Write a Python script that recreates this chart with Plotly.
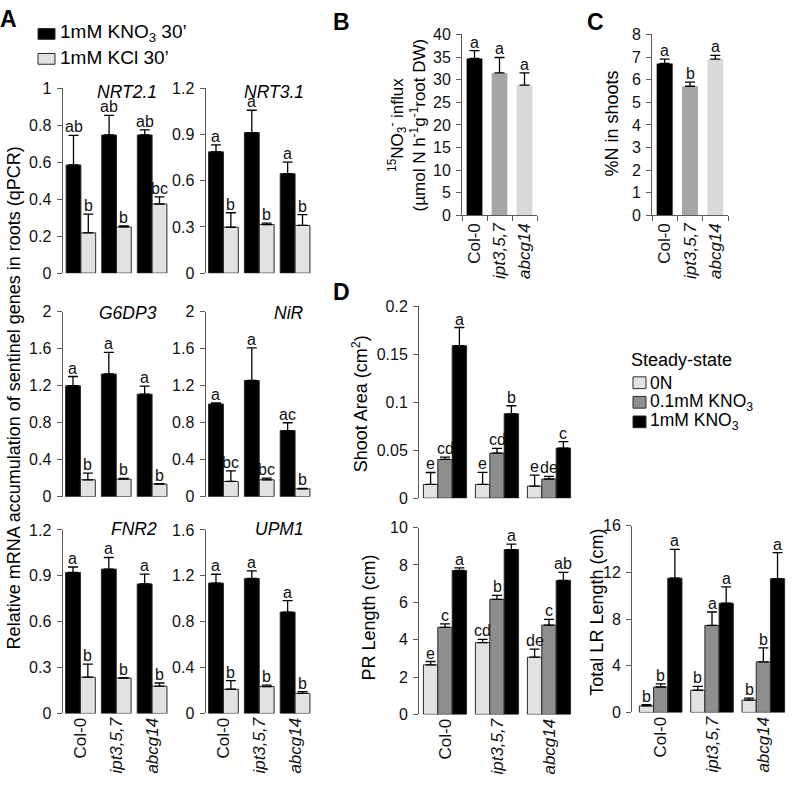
import plotly.graph_objects as go

W, H = 800, 787
FONT = "Liberation Sans, Arial, Helvetica, sans-serif"

# ---------------- data ----------------
genotypes = ["Col-0", "ipt3,5,7", "abcg14"]
genotype_labels = ["Col-0", "<i>ipt3,5,7</i>", "<i>abcg14</i>"]

# Panel A: relative mRNA accumulation (1mM KNO3 30' vs 1mM KCl 30')
nrt21_kno3 = [0.585, 0.747, 0.747]
nrt21_kno3_se = [0.160, 0.106, 0.028]
nrt21_kcl = [0.218, 0.250, 0.374]
nrt21_kcl_se = [0.101, 0.006, 0.038]
nrt21_kno3_let = ["ab", "ab", "ab"]
nrt21_kcl_let = ["b", "b", "bc"]

nrt31_kno3 = [0.787, 0.912, 0.645]
nrt31_kno3_se = [0.046, 0.145, 0.075]
nrt31_kcl = [0.298, 0.315, 0.310]
nrt31_kcl_se = [0.094, 0.010, 0.070]
nrt31_kno3_let = ["a", "a", "a"]
nrt31_kcl_let = ["b", "b", "b"]

g6dp3_kno3 = [1.200, 1.327, 1.109]
g6dp3_kno3_se = [0.100, 0.233, 0.088]
g6dp3_kcl = [0.183, 0.190, 0.137]
g6dp3_kcl_se = [0.071, 0.007, 0.005]
g6dp3_kno3_let = ["a", "a", "a"]
g6dp3_kcl_let = ["b", "b", "b"]

nir_kno3 = [1.003, 1.257, 0.715]
nir_kno3_se = [0.011, 0.353, 0.085]
nir_kcl = [0.165, 0.183, 0.085]
nir_kcl_se = [0.115, 0.017, 0.006]
nir_kno3_let = ["a", "a", "ac"]
nir_kcl_let = ["bc", "bc", "b"]

fnr2_kno3 = [0.922, 0.944, 0.847]
fnr2_kno3_se = [0.036, 0.076, 0.064]
fnr2_kcl = [0.237, 0.231, 0.178]
fnr2_kcl_se = [0.086, 0.003, 0.021]
fnr2_kno3_let = ["a", "a", "a"]
fnr2_kcl_let = ["b", "b", "b"]

upm1_kno3 = [1.137, 1.177, 0.884]
upm1_kno3_se = [0.077, 0.066, 0.100]
upm1_kcl = [0.211, 0.234, 0.175]
upm1_kcl_se = [0.075, 0.012, 0.015]
upm1_kno3_let = ["a", "a", "a"]
upm1_kcl_let = ["b", "b", "b"]

# Panel B: 15NO3- influx
influx = [34.7, 31.5, 28.8]
influx_se = [1.7, 3.4, 2.7]
influx_let = ["a", "a", "a"]

# Panel C: %N in shoots
n_shoots = [6.72, 5.71, 6.91]
n_shoots_se = [0.19, 0.18, 0.16]
n_shoots_let = ["a", "b", "a"]

# Panel D: steady-state (0N, 0.1mM KNO3, 1mM KNO3)
shoot_0n = [0.0143, 0.0143, 0.0126]
shoot_0n_se = [0.0125, 0.0127, 0.0114]
shoot_01 = [0.0404, 0.0470, 0.0200]
shoot_01_se = [0.0024, 0.0050, 0.0027]
shoot_1 = [0.159, 0.088, 0.0523]
shoot_1_se = [0.019, 0.0084, 0.0067]
shoot_0n_let = ["e", "e", "e"]
shoot_01_let = ["cd", "cd", "de"]
shoot_1_let = ["a", "b", "c"]

pr_0n = [2.65, 3.84, 3.06]
pr_0n_se = [0.18, 0.18, 0.43]
pr_01 = [4.66, 6.16, 4.78]
pr_01_se = [0.18, 0.21, 0.30]
pr_1 = [7.70, 8.82, 7.17]
pr_1_se = [0.14, 0.29, 0.43]
pr_0n_let = ["e", "cd", "de"]
pr_01_let = ["c", "b", "c"]
pr_1_let = ["a", "a", "ab"]

lr_0n = [0.56, 1.90, 1.06]
lr_0n_se = [0.10, 0.33, 0.17]
lr_01 = [2.18, 7.45, 4.33]
lr_01_se = [0.27, 1.15, 1.20]
lr_1 = [11.50, 9.35, 11.45]
lr_1_se = [2.46, 1.40, 2.23]
lr_0n_let = ["b", "b", "b"]
lr_01_let = ["b", "a", "b"]
lr_1_let = ["a", "a", "a"]

legendA_names = ["1mM KNO<sub>3</sub> 30’", "1mM KCl 30’"]
legendD_title = "Steady-state"
legendD_names = ["0N", "0.1mM KNO<sub>3</sub>", "1mM KNO<sub>3</sub>"]

# ---------------- styling ----------------
AX = "#5a5a5a"
TXT = "#111111"
OUT = "#2a2a2a"
C_BLACK = "#000000"
C_LIGHT = "#e2e2e2"
C_MID = "#8e8e8e"
BC_COLORS = ["#000000", "#a6a6a6", "#d9d9d9"]
BARGAP = 0.17
YTICKFONT = dict(size=16, color=TXT, family=FONT)
XTICKFONT = dict(size=17, color=TXT, family=FONT)
LETFONT = dict(size=16, color=TXT, family=FONT)


def xdom(l, r):
    return [l / W, r / W]


def ydom(t, b):
    return [1 - b / H, 1 - t / H]


fig = go.Figure()
layout = {}
annotations = []
shapes = []


def add_axes(i, xd, yd, yrange, dtick, xlabels, xline=False, ypos=None):
    sx = "" if i == 1 else str(i)
    xname, yname = "x" + sx, "y" + sx
    layout["xaxis" + sx] = dict(
        domain=xdom(*xd), anchor=yname, type="category",
        categoryorder="array", categoryarray=genotypes,
        tickvals=genotypes, ticktext=genotype_labels,
        showticklabels=xlabels, tickangle=-90, tickfont=XTICKFONT,
        showline=xline, linecolor=AX, linewidth=1,
        ticks="outside" if xline else "", tickson="boundaries",
        ticklen=5, tickcolor=AX, showgrid=False, zeroline=False,
        fixedrange=True)
    ya = dict(
        domain=ydom(*yd), range=yrange, dtick=dtick, tick0=0,
        anchor=xname, showline=True, linecolor=AX, linewidth=1,
        ticks="outside", ticklen=5, tickcolor=AX, tickfont=YTICKFONT,
        ticklabelstandoff=2,
        showgrid=False, zeroline=False, fixedrange=True)
    if ypos is not None:
        ya.update(anchor="free", position=ypos / W)
    layout["yaxis" + sx] = ya
    return xname, yname


def err(se):
    return dict(type="data", symmetric=False, array=se, arrayminus=[0] * len(se),
                color="#000000", thickness=1.3, width=5)


def add_letters(xname, yname, means, ses, labs, ntr, k, gap=BARGAP):
    w = (1 - gap) / ntr
    for j, (m, s, l) in enumerate(zip(means, ses, labs)):
        x = j - (1 - gap) / 2 + (k + 0.5) * w if ntr > 1 else j
        annotations.append(dict(
            x=x, y=m + s, xref=xname, yref=yname, text=l, showarrow=False,
            xanchor="center", yanchor="bottom", yshift=-2, font=LETFONT))


def txt(x, y, text, size=18, angle=0, xanchor="center", yanchor="middle", italic=False):
    annotations.append(dict(
        x=x / W, y=1 - y / H, xref="paper", yref="paper", text=text, showarrow=False,
        textangle=angle, xanchor=xanchor, yanchor=yanchor,
        font=dict(size=size, color="#000000", family=FONT,
                  style="italic" if italic else "normal")))


def key(x0, x1, y0, y1, color):
    shapes.append(dict(type="rect", xref="paper", yref="paper",
                       x0=x0 / W, x1=x1 / W, y0=1 - y1 / H, y1=1 - y0 / H,
                       fillcolor=color, line=dict(color=OUT, width=1)))


# ---------------- panel A ----------------
panelA = [
    ("NRT2.1", nrt21_kno3, nrt21_kno3_se, nrt21_kcl, nrt21_kcl_se, nrt21_kno3_let, nrt21_kcl_let, [0, 1], 0.2),
    ("NRT3.1", nrt31_kno3, nrt31_kno3_se, nrt31_kcl, nrt31_kcl_se, nrt31_kno3_let, nrt31_kcl_let, [0, 1.2], 0.3),
    ("G6DP3", g6dp3_kno3, g6dp3_kno3_se, g6dp3_kcl, g6dp3_kcl_se, g6dp3_kno3_let, g6dp3_kcl_let, [0, 2], 0.4),
    ("NiR", nir_kno3, nir_kno3_se, nir_kcl, nir_kcl_se, nir_kno3_let, nir_kcl_let, [0, 2], 0.4),
    ("FNR2", fnr2_kno3, fnr2_kno3_se, fnr2_kcl, fnr2_kcl_se, fnr2_kno3_let, fnr2_kcl_let, [0, 1.2], 0.3),
    ("UPM1", upm1_kno3, upm1_kno3_se, upm1_kcl, upm1_kcl_se, upm1_kno3_let, upm1_kcl_let, [0, 1.6], 0.4),
]
A_cols = [(62.5, 170), (205.5, 313)]
A_rows = [(82, 271), (310.5, 499.5), (533.5, 721)]
A_title_x = [159, 306]
A_title_y = [86, 312, 533]

for n, (gene, k_m, k_s, c_m, c_s, k_l, c_l, rng, dt) in enumerate(panelA):
    r, c = divmod(n, 2)
    xn, yn = add_axes(n + 1, A_cols[c], A_rows[r], rng, dt, xlabels=(r == 2))
    fig.add_trace(go.Bar(
        x=genotypes, y=k_m, error_y=err(k_s), name=legendA_names[0],
        marker=dict(color=C_BLACK, line=dict(color=OUT, width=1)),
        xaxis=xn, yaxis=yn, showlegend=False))
    fig.add_trace(go.Bar(
        x=genotypes, y=c_m, error_y=err(c_s), name=legendA_names[1],
        marker=dict(color=C_LIGHT, line=dict(color=OUT, width=1)),
        xaxis=xn, yaxis=yn, showlegend=False))
    add_letters(xn, yn, k_m, k_s, k_l, 2, 0)
    add_letters(xn, yn, c_m, c_s, c_l, 2, 1)
    txt(A_title_x[c], A_title_y[r], gene, size=17.5, xanchor="right", italic=True)

# ---------------- panel B ----------------
xn, yn = add_axes(7, (462, 537), (27, 212), [0, 40], 5, xlabels=True, xline=True)
fig.add_trace(go.Bar(x=genotypes, y=influx, width=0.63, error_y=err(influx_se),
                     marker=dict(color=BC_COLORS, line=dict(width=0)),
                     xaxis=xn, yaxis=yn, showlegend=False))
add_letters(xn, yn, influx, influx_se, influx_let, 1, 0)

# ---------------- panel C ----------------
xn, yn = add_axes(8, (652, 728), (27, 212), [0, 8], 1, xlabels=True, xline=True)
fig.add_trace(go.Bar(x=genotypes, y=n_shoots, width=0.63, error_y=err(n_shoots_se),
                     marker=dict(color=BC_COLORS, line=dict(width=0)),
                     xaxis=xn, yaxis=yn, showlegend=False))
add_letters(xn, yn, n_shoots, n_shoots_se, n_shoots_let, 1, 0)

# ---------------- panel D ----------------
D_colors = [C_LIGHT, C_MID, C_BLACK]
D_panels = [
    (9, (419, 575), (305, 501), [0, 0.2], 0.05, False, None,
     [(shoot_0n, shoot_0n_se, shoot_0n_let), (shoot_01, shoot_01_se, shoot_01_let), (shoot_1, shoot_1_se, shoot_1_let)]),
    (10, (419, 575), (531, 722), [0, 10], 2, True, None,
     [(pr_0n, pr_0n_se, pr_0n_let), (pr_01, pr_01_se, pr_01_let), (pr_1, pr_1_se, pr_1_let)]),
    (11, (635, 789), (529, 720), [0, 16], 4, True, 631,
     [(lr_0n, lr_0n_se, lr_0n_let), (lr_01, lr_01_se, lr_01_let), (lr_1, lr_1_se, lr_1_let)]),
]
for idx, xd, yd, rng, dt, xl, ypos, series in D_panels:
    xn, yn = add_axes(idx, xd, yd, rng, dt, xlabels=xl, ypos=ypos)
    for k, (m, s, l) in enumerate(series):
        fig.add_trace(go.Bar(
            x=genotypes, y=m, error_y=err(s), name=legendD_names[k],
            marker=dict(color=D_colors[k], line=dict(color=OUT, width=1)),
            xaxis=xn, yaxis=yn, showlegend=False))
        add_letters(xn, yn, m, s, l, 3, k)

# ---------------- legends (keys + text) ----------------
key(38, 55, 21, 32, C_BLACK)
key(38, 55, 46.5, 57.5, C_LIGHT)
txt(58, 26, legendA_names[0], size=19, xanchor="left")
txt(58, 51, legendA_names[1], size=19, xanchor="left")

txt(629, 360, legendD_title, size=18, xanchor="left")
for k, yc in enumerate([383, 403, 423]):
    key(633, 646, yc - 6, yc + 6, D_colors[k])
    txt(648, yc, legendD_names[k], size=17.5, xanchor="left")

# ---------------- other text ----------------
txt(8, 11, "<b>A</b>", size=23)
txt(341, 14, "<b>B</b>", size=23)
txt(595, 14, "<b>C</b>", size=23)
txt(341, 290, "<b>D</b>", size=23)

txt(14, 399, "Relative mRNA accumulation of sentinel genes in roots (qPCR)", size=18, angle=-90)
txt(407, 120, "<sup>15</sup>NO<sub>3</sub><sup>-</sup> influx<br>(µmol N h<sup>-1</sup>g<sup>-1</sup>root DW)",
    size=17, angle=-90)
txt(612, 118, "%N in shoots", size=18, angle=-90)
txt(360, 405, "Shoot Area (cm<sup>2</sup>)", size=18, angle=-90)
txt(369, 623, "PR Length (cm)", size=18, angle=-90)
txt(597, 618, "Total LR Length (cm)", size=18, angle=-90)

fig.update_layout(
    width=W, height=H, margin=dict(l=0, r=0, t=0, b=0),
    paper_bgcolor="white", plot_bgcolor="white",
    font=dict(family=FONT, color=TXT),
    barmode="group", bargap=BARGAP, bargroupgap=0,
    showlegend=False,
    annotations=annotations, shapes=shapes,
    **layout,
)

fig.write_html(
    "out.html",
    config={"displayModeBar": False},
    post_script="document.body.style.margin='0px';document.body.style.overflow='hidden';",
)
